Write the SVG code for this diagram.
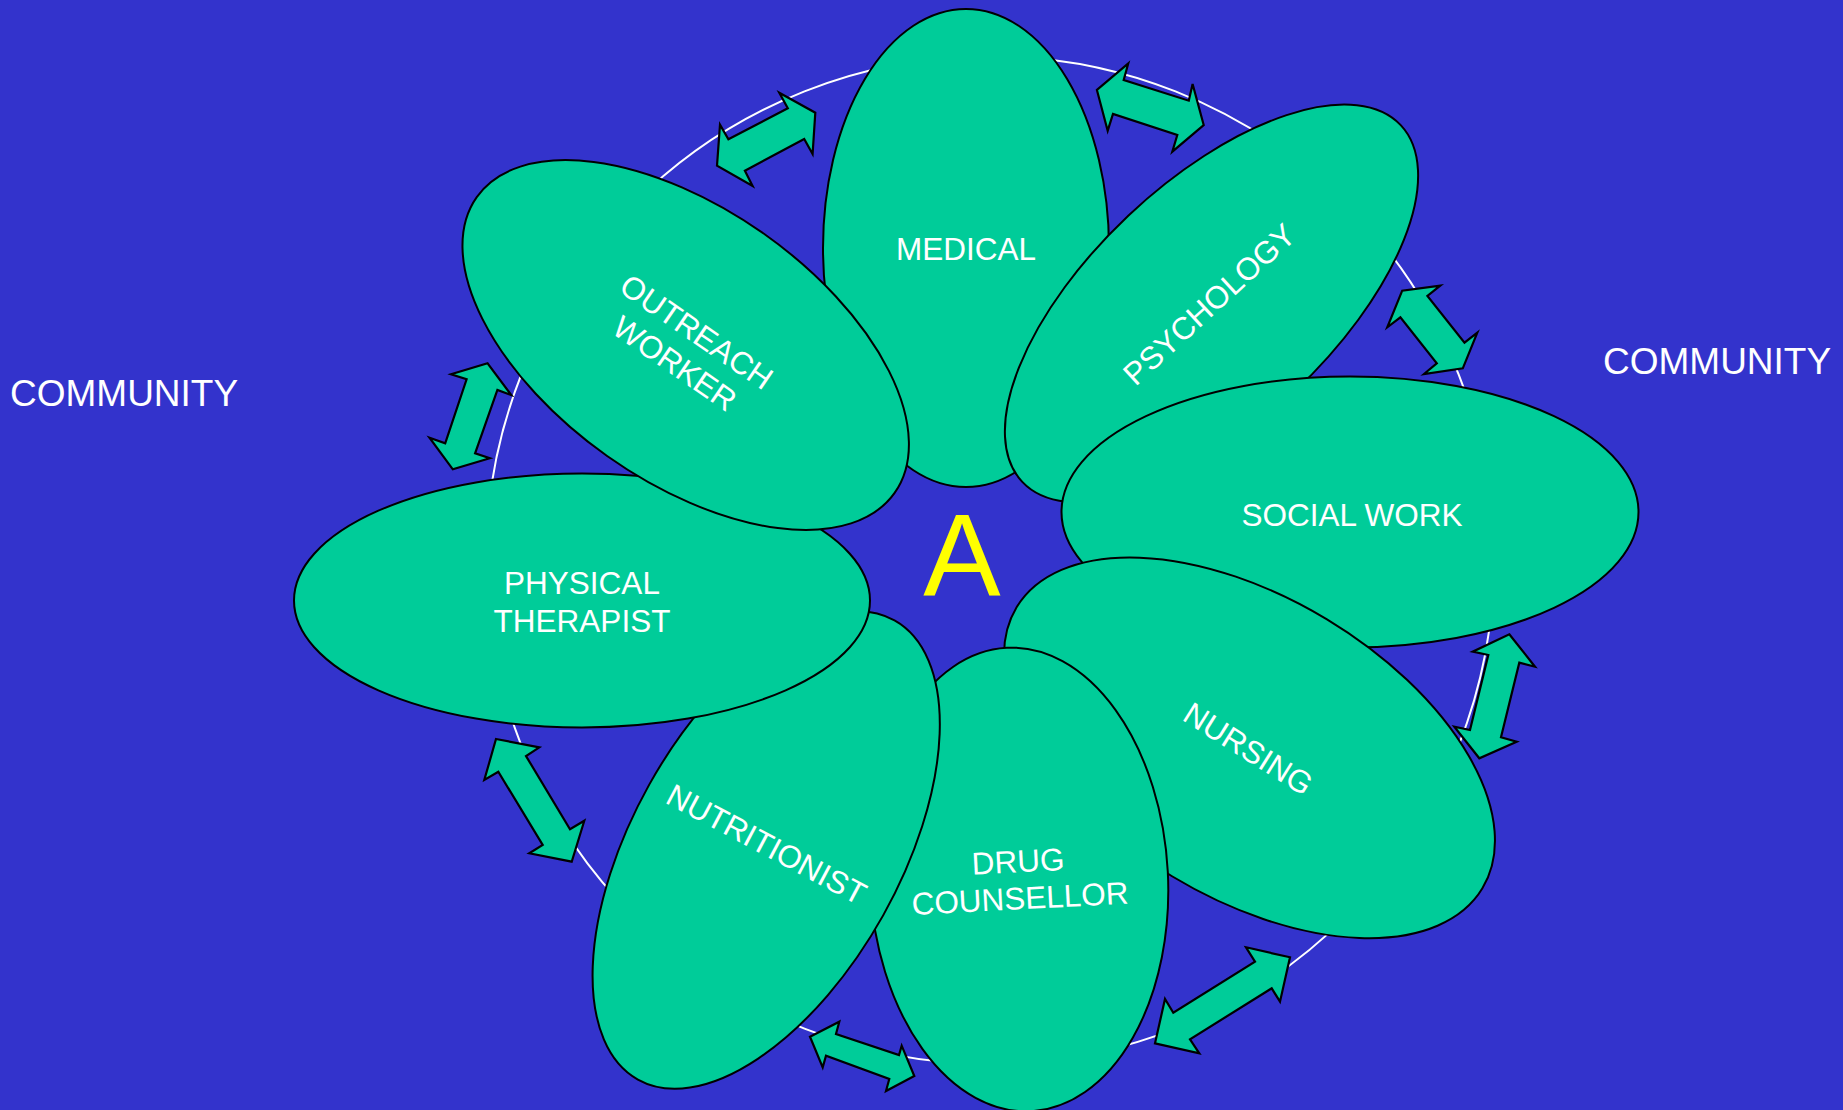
<svg xmlns="http://www.w3.org/2000/svg" width="1843" height="1110" viewBox="0 0 1843 1110">
<style>
.bg{fill:#3333CC}
.ring{fill:none;stroke:#FFFFFF;stroke-width:2}
.node ellipse{fill:#00CC99;stroke:#000000;stroke-width:2}
.lbl{fill:#FFFFFF;font-family:"Liberation Sans",Arial,sans-serif;font-size:31.5px;text-anchor:middle}
.comm{fill:#FFFFFF;font-family:"Liberation Sans",Arial,sans-serif;font-size:37px}
.big{fill:#FFFF00;font-family:"Liberation Sans",Arial,sans-serif;font-size:116px;text-anchor:middle}
.arrow{fill:#00CC99;stroke:#000000;stroke-width:2.2;stroke-linejoin:miter}
</style>
<rect class="bg" x="0" y="0" width="1843" height="1110"/>
<circle class="ring" cx="990" cy="560" r="504"/>

<g id="medical" class="node">
  <ellipse cx="966" cy="248" rx="143" ry="239"/>
  <text class="lbl" x="966" y="260">MEDICAL</text>
</g>
<g id="psychology" class="node">
  <ellipse cx="0" cy="0" rx="260" ry="121" transform="translate(1211.5,303.5) rotate(-43.3)"/>
  <text class="lbl" x="0" y="11.3" transform="translate(1209,304) rotate(-42.6)">PSYCHOLOGY</text>
</g>
<g id="social-work" class="node">
  <ellipse cx="1350" cy="512" rx="288.5" ry="135.5"/>
  <text class="lbl" x="1352" y="526">SOCIAL WORK</text>
</g>
<g id="nursing" class="node">
  <ellipse cx="0" cy="0" rx="272" ry="150" transform="translate(1249.5,747.8) rotate(31.1)"/>
  <text class="lbl" x="0" y="11.3" transform="translate(1248.5,748.5) rotate(32)">NURSING</text>
</g>
<g id="drug-counsellor" class="node">
  <ellipse cx="0" cy="0" rx="149" ry="232" transform="translate(1019,879.5) rotate(-3)"/>
  <g transform="translate(1019,879.5) rotate(-3)">
    <text class="lbl" x="0" y="-7.2">DRUG</text>
    <text class="lbl" x="0" y="29.8">COUNSELLOR</text>
  </g>
</g>
<g id="nutritionist" class="node">
  <ellipse cx="0" cy="0" rx="134" ry="263" transform="translate(766.2,850) rotate(29.2)"/>
  <text class="lbl" x="0" y="11.3" transform="translate(766.7,844) rotate(28)">NUTRITIONIST</text>
</g>
<g id="physical-therapist" class="node">
  <ellipse cx="582" cy="600.5" rx="288" ry="127"/>
  <text class="lbl" x="582" y="594.3">PHYSICAL</text>
  <text class="lbl" x="582" y="631.8">THERAPIST</text>
</g>
<g id="outreach-worker" class="node">
  <ellipse cx="0" cy="0" rx="256" ry="136" transform="translate(685.7,345) rotate(35.3)"/>
  <g transform="translate(685.9,347.3) rotate(34.5)">
    <text class="lbl" x="0" y="-7.8">OUTREACH</text>
    <text class="lbl" x="0" y="30.5">WORKER</text>
  </g>
</g>

<g id="connectors">
  <polygon class="arrow" points="779.3,92.7 815.3,112.7 812.6,154.0 804.2,139.0 744.9,170.7 752.6,186.0 717.0,165.7 720.0,124.7 728.4,139.3 787.8,108.3"/>
  <polygon class="arrow" points="1128.3,63.3 1123.7,80 1188.8,100.7 1192.6,84 1203.7,125 1172.3,151.7 1177.3,135 1113.0,114 1107.7,130.7 1096.9,90"/>
  <polygon class="arrow" points="1440.3,285.7 1427.4,296 1464.5,342.7 1477.3,332.7 1462.8,368.3 1424.0,374 1436.8,363.3 1400.4,317.3 1387.3,327.3 1402.2,290.7"/>
  <polygon class="arrow" points="1509.3,634.3 1535,666.7 1519.3,662.7 1501,737.3 1516.7,741.7 1479.3,758.3 1454.3,726.7 1470,730 1488.3,655 1472.7,651.7"/>
  <polygon class="arrow" points="1246,947.3 1290,957.3 1280,1001.7 1271.7,988.3 1190,1039.3 1199.3,1053.3 1155,1043.3 1165,999 1173.3,1012.7 1255,961.7"/>
  <polygon class="arrow" points="839.3,1021.7 836,1034 899,1055 901.7,1045.7 914.3,1076 886,1091 889.3,1079 826,1055.7 822.7,1067.3 810,1036.7"/>
  <polygon class="arrow" points="496,739 539.3,747.3 526,756 570,829.3 584.3,820.7 571.7,861.7 529.3,853.3 542.7,845 498.3,771.7 484.3,780"/>
  <polygon class="arrow" points="487.6,363.3 511.2,395 497.4,390 475.1,453.3 489.8,458.3 452.8,469.3 429.5,437.7 445.2,443.3 466.6,379.3 451.0,374.3"/>
</g>

<text class="big" x="962" y="596">A</text>
<text class="comm" x="10" y="406">COMMUNITY</text>
<text class="comm" x="1603" y="374">COMMUNITY</text>
</svg>
